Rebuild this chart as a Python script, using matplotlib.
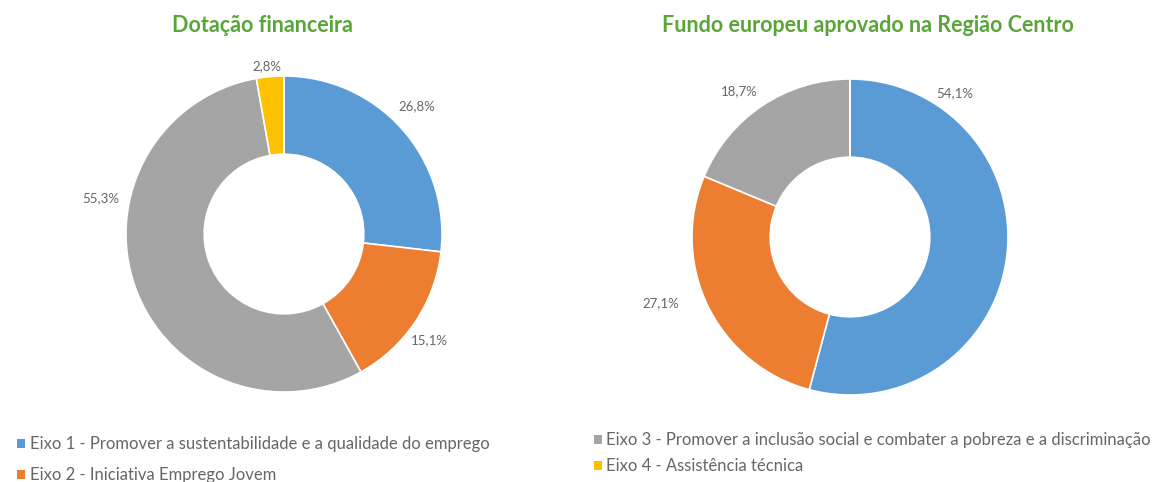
import matplotlib
matplotlib.use("Agg")
import matplotlib.pyplot as plt
from matplotlib.patches import Patch

plt.rcParams['font.family'] = ['Lato', 'DejaVu Sans']

# data
eixos = ['Eixo 1 - Promover a sustentabilidade e a qualidade do emprego',
         'Eixo 2 - Iniciativa Emprego Jovem',
         'Eixo 3 - Promover a inclusão social e combater a pobreza e a discriminação',
         'Eixo 4 - Assistência técnica']
dotacao = [26.8, 15.1, 55.3, 2.8]
fundo = [54.1, 27.1, 18.7, 0.0]
cores = ['#5B9BD5', '#ED7D31', '#A5A5A5', '#FFC000']
titulos = ['Dotação financeira', 'Fundo europeu aprovado na Região Centro']

# label placement (axes units, like Excel "best fit")
pos_esq = [(0.84, 0.81), (0.92, -0.67), (-1.16, 0.23), (-0.11, 1.06)]
pos_dir = [(0.66, 0.91), (-1.20, -0.42), (-0.70, 0.92), None]

W, H = 1171, 482
fig = plt.figure(figsize=(W / 100, H / 100), dpi=100)

R = 158  # outer radius in px


def donut(cx, cy, vals, titulo, tx, pos):
    ax = fig.add_axes([(cx - R) / W, (H - cy - R) / H, 2 * R / W, 2 * R / H])
    wedges, _ = ax.pie(vals, colors=cores, startangle=90, counterclock=False,
                       radius=1, wedgeprops=dict(width=0.495, edgecolor='white', linewidth=1.2))
    for v, p in zip(vals, pos):
        if v > 0 and p is not None:
            ax.text(p[0], p[1], ('%.1f%%' % v).replace('.', ','), ha='center', va='center',
                    color='#666666', fontsize=9.5)
    ax.set_xlim(-1, 1)
    ax.set_ylim(-1, 1)
    ax.set_aspect('equal')
    fig.text(tx / W, 1 - 25 / H, titulo, ha='center', va='center',
             color='#5AA538', fontsize=15.5, fontweight='bold')


donut(284, 234, dotacao, titulos[0], 262, pos_esq)
donut(850, 237, fundo, titulos[1], 868, pos_dir)

handles = [Patch(facecolor=c, edgecolor='none') for c in cores]
kw = dict(frameon=False, handlelength=0.45, handleheight=0.45,
          handletextpad=0.3, labelcolor='#666666',
          prop=dict(family=['Lato', 'DejaVu Sans'], size=12))
fig.legend(handles[:2], eixos[:2], loc='upper left', labelspacing=0.9,
           bbox_to_anchor=(2 / W, 1 - 421 / H), **kw)
fig.legend(handles[2:], eixos[2:], loc='upper left', labelspacing=0.6,
           bbox_to_anchor=(579 / W, 1 - 417 / H), **kw)

fig.savefig('out.png', dpi=100)
